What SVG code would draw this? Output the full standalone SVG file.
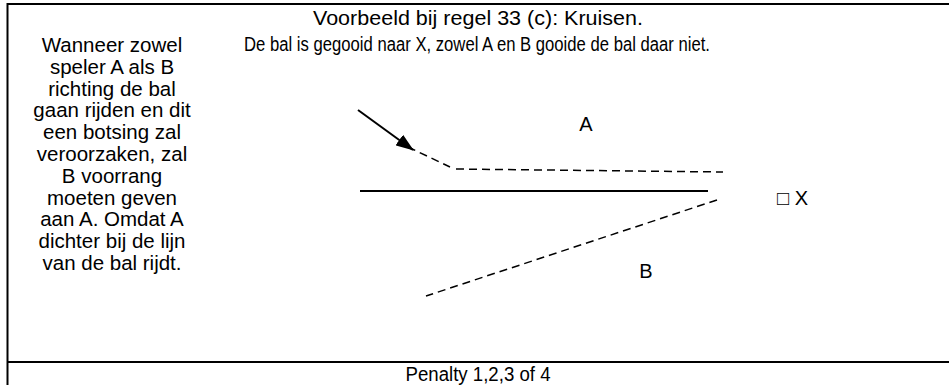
<svg xmlns="http://www.w3.org/2000/svg" width="949" height="385" viewBox="0 0 949 385">
<style>
.t{font-family:"Liberation Sans",Arial,sans-serif;font-size:20.5px;fill:#000;text-anchor:middle}
.h{font-family:"Liberation Sans",Arial,sans-serif;font-size:20px;fill:#000;text-anchor:middle}
.lbl{font-family:"Liberation Sans",Arial,sans-serif;font-size:20px;fill:#000;text-anchor:middle}
.frame{stroke:#000;stroke-width:2;fill:none}
.dash{stroke:#000;stroke-width:1.5;fill:none;stroke-dasharray:8,5}
.solid{stroke:#000;stroke-width:2;fill:none}
</style>
<defs>
<marker id="ah" markerWidth="18" markerHeight="13" refX="17" refY="6.5" orient="auto" markerUnits="userSpaceOnUse" viewBox="0 0 18 13">
<path d="M0,0 L18,6.5 L0,13 Z" fill="#000"/>
</marker>
</defs>
<g id="frame">
<line class="frame" x1="7.5" y1="4" x2="949" y2="4"/>
<line class="frame" x1="7.5" y1="3" x2="7.5" y2="385"/>
<line class="frame" x1="7.5" y1="362" x2="949" y2="362"/>
</g>
<g id="header">
<text class="h" x="478" y="25" textLength="330" lengthAdjust="spacingAndGlyphs">Voorbeeld bij regel 33 (c): Kruisen.</text>
<text class="h" x="477" y="51" textLength="466" lengthAdjust="spacingAndGlyphs">De bal is gegooid naar X, zowel A en B gooide de bal daar niet.</text>
</g>
<g id="explanation">
<text class="t" x="112" y="52">Wanneer zowel</text>
<text class="t" x="112" y="74">speler A als B</text>
<text class="t" x="112" y="96">richting de bal</text>
<text class="t" x="112" y="117">gaan rijden en dit</text>
<text class="t" x="112" y="139">een botsing zal</text>
<text class="t" x="112" y="161">veroorzaken, zal</text>
<text class="t" x="112" y="183">B voorrang</text>
<text class="t" x="112" y="205">moeten geven</text>
<text class="t" x="112" y="226">aan A. Omdat A</text>
<text class="t" x="112" y="248">dichter bij de lijn</text>
<text class="t" x="112" y="270">van de bal rijdt.</text>
</g>
<g id="connectors">
<line class="solid" x1="358" y1="110" x2="413" y2="150" marker-end="url(#ah)"/>
<path class="dash" d="M408,147 L450,167"/>
<path class="dash" d="M456,169 L723,172"/>
<line class="solid" x1="360" y1="191" x2="708" y2="191"/>
<path class="dash" d="M717,200 L426,296"/>
</g>
<g id="label-A"><text class="lbl" x="586" y="131">A</text></g>
<g id="label-B"><text class="lbl" x="646" y="278">B</text></g>
<g id="label-X"><text class="lbl" x="777" y="205" style="text-anchor:start">□ X</text></g>
<g id="footer">
<text class="h" x="478" y="381" textLength="145" lengthAdjust="spacingAndGlyphs">Penalty 1,2,3 of 4</text>
</g>
</svg>
